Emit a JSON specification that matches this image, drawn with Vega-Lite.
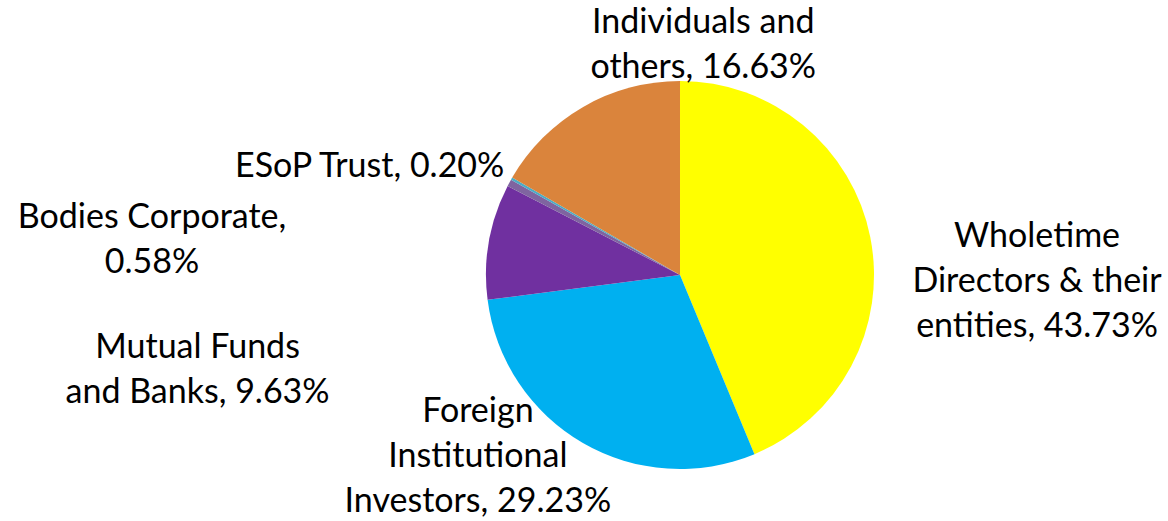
{
  "$schema": "https://vega.github.io/schema/vega-lite/v6.json",
  "width": 976,
  "height": 490,
  "autosize": "none",
  "padding": {"left": 192, "top": 30, "right": 0, "bottom": 1},
  "background": "white",
  "view": {"stroke": null},
  "config": {"text": {"font": "Lato", "fontSize": 34, "lineHeight": 45, "align": "center", "baseline": "middle", "color": "black", "lineBreak": "\n"}},
  "data": {"values": [
    {"group": "Wholetime Directors & their entities", "share": 43.73, "idx": 1, "label": "Wholetime\nDirectors & their\nentities, 43.73%"},
    {"group": "Foreign Institutional Investors", "share": 29.23, "idx": 2, "label": "Foreign\nInstitutional\nInvestors, 29.23%"},
    {"group": "Mutual Funds and Banks", "share": 9.63, "idx": 3, "label": "Mutual Funds\nand Banks, 9.63%"},
    {"group": "Bodies Corporate", "share": 0.58, "idx": 4, "label": "Bodies Corporate,\n0.58%"},
    {"group": "ESoP Trust", "share": 0.20, "idx": 5, "label": "ESoP Trust, 0.20%"},
    {"group": "Individuals and others", "share": 16.63, "idx": 6, "label": "Individuals and\nothers, 16.63%"}
  ]},
  "encoding": {
    "theta": {"field": "share", "type": "quantitative", "stack": true, "scale": {"domain": [0, 100]}},
    "order": {"field": "idx", "type": "quantitative"},
    "detail": {"field": "group", "type": "nominal"}
  },
  "layer": [
    {
      "mark": {"type": "arc", "outerRadius": 194},
      "encoding": {
        "color": {"field": "group", "type": "nominal", "legend": null,
          "scale": {"domain": ["Wholetime Directors & their entities", "Foreign Institutional Investors", "Mutual Funds and Banks", "Bodies Corporate", "ESoP Trust", "Individuals and others"],
                    "range": ["#FFFF00", "#00B0F0", "#7030A0", "#7F64A0", "#4BACC6", "#DA843C"]}}
      }
    },
    {
      "mark": {"type": "text", "radius": 360, "dx": 4, "dy": 32},
      "encoding": {"text": {"condition": {"test": "datum.idx === 1", "field": "label"}, "value": ""}}
    },
    {
      "mark": {"type": "text", "radius": 200, "dx": -102, "dy": -36},
      "encoding": {"text": {"condition": {"test": "datum.idx === 2", "field": "label"}, "value": ""}}
    },
    {
      "mark": {"type": "text", "radius": 300, "dx": -187, "dy": 125},
      "encoding": {"text": {"condition": {"test": "datum.idx === 3", "field": "label"}, "value": ""}}
    },
    {
      "mark": {"type": "text", "radius": 300, "dx": -264, "dy": 86},
      "encoding": {"text": {"condition": {"test": "datum.idx === 4", "field": "label"}, "value": ""}}
    },
    {
      "mark": {"type": "text", "radius": 240, "dx": -102, "dy": 11},
      "encoding": {"text": {"condition": {"test": "datum.idx === 5", "field": "label"}, "value": ""}}
    },
    {
      "mark": {"type": "text", "radius": 240, "dx": 143, "dy": -44},
      "encoding": {"text": {"condition": {"test": "datum.idx === 6", "field": "label"}, "value": ""}}
    }
  ]
}
